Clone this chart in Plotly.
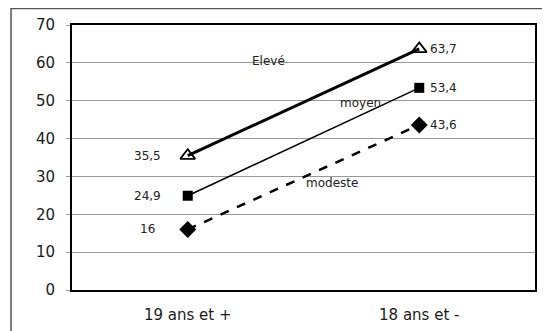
import plotly.graph_objects as go

categories = ["19 ans et +", "18 ans et -"]
eleve = [35.5, 63.7]
moyen = [24.9, 53.4]
modeste = [16, 43.6]
y_ticks = [0, 10, 20, 30, 40, 50, 60, 70]

def lab(v):
    return str(v).replace(".", ",")

fig = go.Figure()
FONT = "DejaVu Sans, Arial, sans-serif"

series = [
    ("Elevé", eleve, dict(color="black", width=3),
     dict(symbol="triangle-up-open", size=13, color="black", line=dict(width=1.8))),
    ("moyen", moyen, dict(color="black", width=1.5),
     dict(symbol="square", size=10, color="black")),
    ("modeste", modeste, dict(color="black", width=2.5, dash="dash"),
     dict(symbol="diamond", size=13, color="black")),
]
for name, vals, line, marker in series:
    fig.add_trace(go.Scatter(x=[0, 1], y=vals, mode="lines+markers",
                             line=line, marker=marker, name=name,
                             showlegend=False, cliponaxis=False))
    fig.add_annotation(x=0, y=vals[0], text=lab(vals[0]), showarrow=False,
                       xanchor="center", xshift=-40,
                       font=dict(family=FONT, size=12, color="#222"))
    fig.add_annotation(x=1, y=vals[1], text=lab(vals[1]), showarrow=False,
                       xanchor="left", xshift=9,
                       font=dict(family=FONT, size=12, color="#222"))

for txt, x, y in [("Elevé", 0.347, 60.5), ("moyen", 0.748, 49.4), ("modeste", 0.623, 28.3)]:
    fig.add_annotation(x=x, y=y, text=txt, showarrow=False,
                       font=dict(family=FONT, size=12, color="#222"))

# outer frame
fig.add_shape(type="rect", xref="paper", yref="paper",
              x0=-0.1317, y0=-0.3, x1=1.2, y1=1.062,
              line=dict(color="#555", width=1.5), layer="below")

fig.update_layout(
    width=542, height=323,
    margin=dict(l=64, r=15, t=17, b=41),
    paper_bgcolor="white", plot_bgcolor="white",
    font=dict(family=FONT, color="#222"),
    xaxis=dict(type="linear", range=[-0.5, 1.5], tickvals=[0, 1], ticktext=categories,
               showgrid=False, zeroline=False, showline=True, mirror=True,
               linecolor="black", linewidth=2, ticks="", ticklabelstandoff=10,
               automargin=False,
               tickfont=dict(family=FONT, size=15, color="#1a1a1a")),
    yaxis=dict(range=[0, 70], tickvals=y_ticks, showgrid=True, gridcolor="#999",
               gridwidth=1, zeroline=False, showline=True, mirror=True,
               linecolor="black", linewidth=2, ticks="outside", ticklen=4, tickcolor="#999",
               ticklabelstandoff=8, automargin=False,
               tickfont=dict(family=FONT, size=15, color="#1a1a1a")),
)

fig.write_html("out.html")
